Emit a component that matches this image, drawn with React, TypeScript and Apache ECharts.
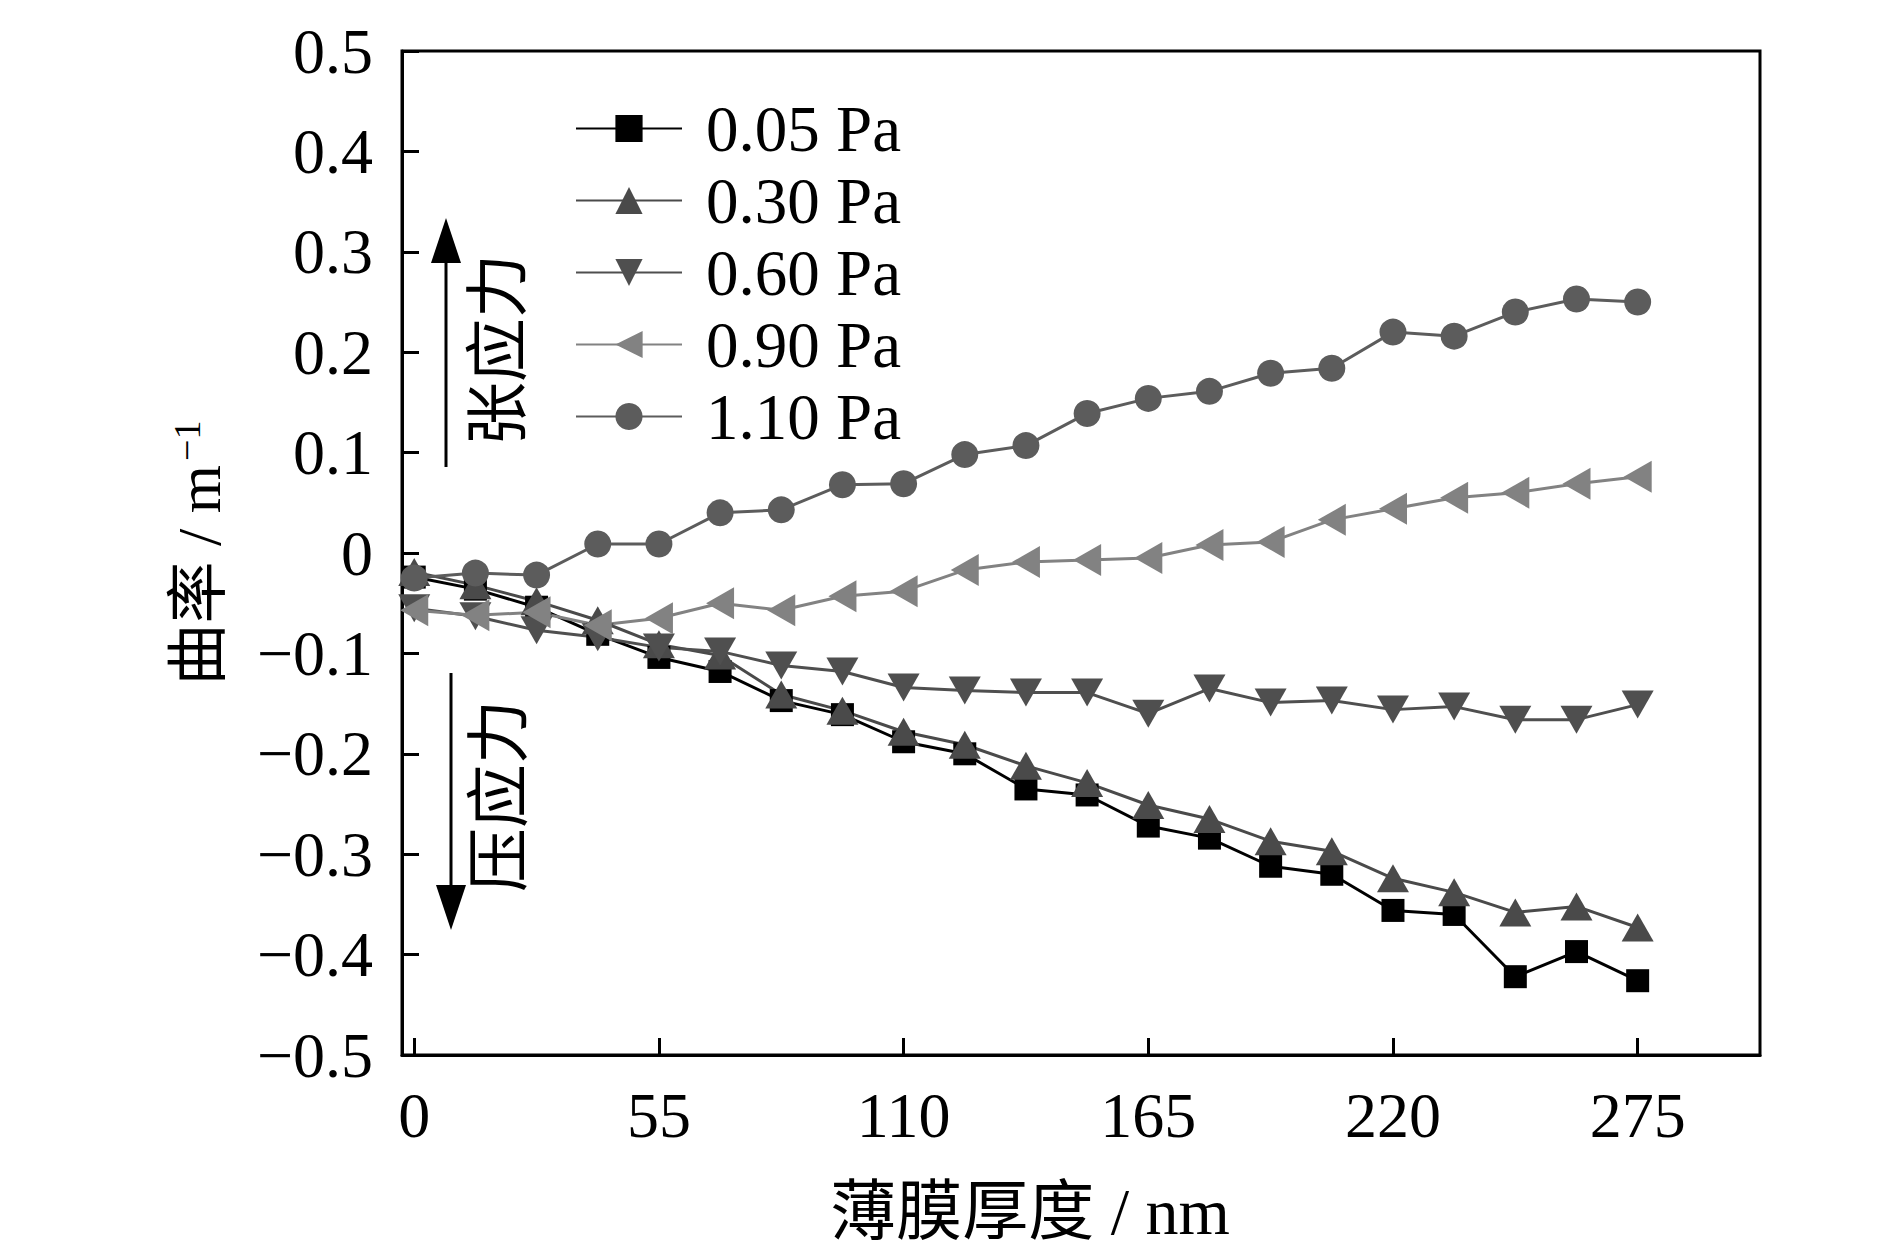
import { useEffect, useRef } from 'react'
import * as echarts from 'echarts'

const thickness = [
  0, 13.75, 27.5, 41.25, 55, 68.75, 82.5, 96.25, 110, 123.75, 137.5, 151.25,
  165, 178.75, 192.5, 206.25, 220, 233.75, 247.5, 261.25, 275,
]

const p005 = [
  -0.024, -0.036, -0.054, -0.081, -0.104, -0.118, -0.147, -0.161, -0.188,
  -0.2, -0.235, -0.241, -0.272, -0.284, -0.312, -0.32, -0.356, -0.36, -0.422,
  -0.397, -0.426,
]
const p030 = [
  -0.019, -0.032, -0.048, -0.067, -0.091, -0.102, -0.141, -0.157, -0.178,
  -0.191, -0.212, -0.229, -0.251, -0.265, -0.287, -0.297, -0.324, -0.338,
  -0.358, -0.352, -0.373,
]
const p060 = [
  -0.055, -0.063, -0.077, -0.084, -0.094, -0.098, -0.112, -0.118, -0.134,
  -0.137, -0.139, -0.139, -0.16, -0.135, -0.149, -0.147, -0.156, -0.153,
  -0.166, -0.166, -0.151,
]
const p090 = [
  -0.057, -0.062, -0.059, -0.072, -0.065, -0.05, -0.057, -0.043, -0.038,
  -0.017, -0.009, -0.007, -0.005, 0.008, 0.011, 0.033, 0.044, 0.055, 0.06,
  0.069, 0.076,
]
const p110 = [
  -0.025, -0.02, -0.022, 0.009, 0.009, 0.04, 0.043, 0.068, 0.069, 0.098,
  0.107, 0.139, 0.154, 0.161, 0.179, 0.184, 0.22, 0.216, 0.24, 0.253, 0.25,
]

const xTicks = [0, 55, 110, 165, 220, 275]

const serif = "'Liberation Serif', 'Times New Roman', 'Noto Sans CJK SC', serif"
const cjk = "'Liberation Serif', 'Noto Sans CJK SC', sans-serif"

const pairs = (ys: number[]) => thickness.map((x, i) => [x, ys[i]])

export default function App() {
  const chartRef = useRef<HTMLDivElement>(null)

  useEffect(() => {
    if (!chartRef.current) return
    document.body.style.margin = '0'
    const chart = echarts.init(chartRef.current, null, { renderer: 'svg' })

    const line = (
      name: string,
      ys: number[],
      color: string,
      symbol: string,
      symbolSize: number | number[],
      symbolRotate = 0
    ) => ({
      name,
      type: 'line',
      data: pairs(ys),
      symbol,
      symbolSize,
      symbolRotate,
      showAllSymbol: true,
      itemStyle: { color, opacity: 1 },
      lineStyle: { color, width: 3 },
      emphasis: { disabled: true },
    })

    chart.setOption({
      animation: false,
      backgroundColor: '#fff',
      grid: {
        left: 402,
        top: 51,
        right: 130,
        bottom: 197,
        show: true,
        borderColor: '#000',
        borderWidth: 3,
      },
      legend: {
        left: 570,
        top: 91,
        orient: 'vertical',
        itemWidth: 106,
        itemHeight: 34,
        itemGap: 7,
        selectedMode: false,
        textStyle: {
          fontFamily: serif,
          fontSize: 65,
          lineHeight: 62,
          color: '#000',
          padding: [0, 0, 0, 19],
        },
        data: ['0.05 Pa', '0.30 Pa', '0.60 Pa', '0.90 Pa', '1.10 Pa'],
      },
      xAxis: {
        type: 'value',
        min: -2.75,
        max: 302.5,
        axisLine: { onZero: false, lineStyle: { color: '#000', width: 3 } },
        axisTick: {
          inside: true,
          length: 17,
          lineStyle: { color: '#000', width: 3 },
          customValues: xTicks,
        },
        axisLabel: {
          margin: 28,
          fontFamily: serif,
          fontSize: 64,
          color: '#000',
          customValues: xTicks,
        },
        splitLine: { show: false },
      },
      yAxis: {
        type: 'value',
        min: -0.5,
        max: 0.5,
        interval: 0.1,
        name: '{t|曲率 / m}{s|−1}',
        nameLocation: 'middle',
        nameRotate: 90,
        nameGap: 172,
        nameTextStyle: {
          color: '#000',
          rich: {
            t: { fontFamily: cjk, fontSize: 62, color: '#000' },
            s: {
              fontFamily: serif,
              fontSize: 38,
              color: '#000',
              verticalAlign: 'top',
              padding: [0, 0, 0, 4],
            },
          },
        },
        axisLine: { onZero: false, lineStyle: { color: '#000', width: 3 } },
        axisTick: {
          inside: true,
          length: 17,
          lineStyle: { color: '#000', width: 3 },
        },
        axisLabel: {
          margin: 29,
          fontFamily: serif,
          fontSize: 64,
          color: '#000',
          formatter: (v: number) =>
            Math.abs(v) < 1e-9 ? '0' : v.toFixed(1).replace('-', '−'),
        },
        splitLine: { show: false },
      },
      graphic: [
        {
          type: 'text',
          x: 1030,
          y: 1211,
          style: {
            text: '薄膜厚度 / nm',
            fontFamily: cjk,
            fontSize: 66,
            fill: '#000',
            align: 'center',
            verticalAlign: 'middle',
          },
        },
        {
          type: 'line',
          shape: { x1: 446, y1: 467, x2: 446, y2: 258 },
          style: { stroke: '#000', lineWidth: 3 },
        },
        {
          type: 'polygon',
          shape: { points: [[446, 218], [431, 263], [461, 263]] },
          style: { fill: '#000' },
        },
        {
          type: 'text',
          x: 498,
          y: 350,
          rotation: Math.PI / 2,
          style: {
            text: '张应力',
            fontFamily: cjk,
            fontSize: 64,
            fill: '#000',
            align: 'center',
            verticalAlign: 'middle',
          },
        },
        {
          type: 'line',
          shape: { x1: 451, y1: 673, x2: 451, y2: 890 },
          style: { stroke: '#000', lineWidth: 3 },
        },
        {
          type: 'polygon',
          shape: { points: [[451, 930], [436, 885], [466, 885]] },
          style: { fill: '#000' },
        },
        {
          type: 'text',
          x: 499,
          y: 796,
          rotation: Math.PI / 2,
          style: {
            text: '压应力',
            fontFamily: cjk,
            fontSize: 64,
            fill: '#000',
            align: 'center',
            verticalAlign: 'middle',
          },
        },
      ],
      series: [
        line('0.05 Pa', p005, '#000000', 'rect', 23),
        line('0.30 Pa', p030, '#4a4a4a', 'triangle', [32, 28]),
        line('0.60 Pa', p060, '#4f4f4f', 'triangle', [32, 28], 180),
        line('0.90 Pa', p090, '#828282', 'triangle', [32, 28], 90),
        line('1.10 Pa', p110, '#5c5c5c', 'circle', 27),
      ],
    })

    return () => {
      chart.dispose()
    }
  }, [])

  return <div ref={chartRef} style={{ width: '1890px', height: '1252px' }} />
}
